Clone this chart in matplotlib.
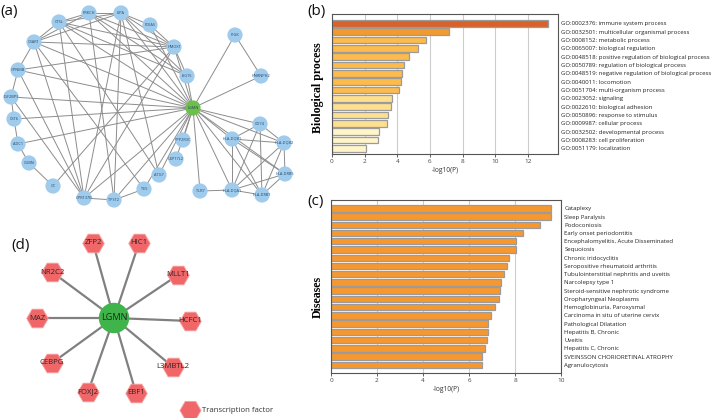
import numpy as np
import matplotlib
matplotlib.use("Agg")
import matplotlib.pyplot as plt

plt.rcParams['font.family'] = ['Open Sans', 'DejaVu Sans']

W, H = 713, 418

# ----------------------------
# Data
# ----------------------------

# (b) GO biological process enrichment
bp_terms = [
    'GO:0002376: immune system process',
    'GO:0032501: multicellular organismal process',
    'GO:0008152: metabolic process',
    'GO:0065007: biological regulation',
    'GO:0048518: positive regulation of biological process',
    'GO:0050789: regulation of biological process',
    'GO:0048519: negative regulation of biological process',
    'GO:0040011: locomotion',
    'GO:0051704: multi-organism process',
    'GO:0023052: signaling',
    'GO:0022610: biological adhesion',
    'GO:0050896: response to stimulus',
    'GO:0009987: cellular process',
    'GO:0032502: developmental process',
    'GO:0008283: cell proliferation',
    'GO:0051179: localization',
]
bp_values = [13.2, 7.17, 5.76, 5.27, 4.69, 4.39, 4.31, 4.23, 4.10,
             3.69, 3.59, 3.45, 3.39, 2.90, 2.84, 2.08]
bp_colors = ['#d9622b', '#f39a2f'] + ['#fdbb4b'] * 7 + ['#fedf90'] * 4 + ['#fff5c9'] * 3

# (c) disease enrichment
dis_terms = [
    'Cataplexy', 'Sleep Paralysis', 'Podoconiosis', 'Early onset periodontitis',
    'Encephalomyelitis, Acute Disseminated', 'Sequoiosis', 'Chronic iridocyclitis',
    'Seropositive rheumatoid arthritis', 'Tubulointerstitial nephritis and uveitis',
    'Narcolepsy type 1', 'Steroid-sensitive nephrotic syndrome', 'Oropharyngeal Neoplasms',
    'Hemoglobinuria, Paroxysmal', 'Carcinoma in situ of uterine cervix',
    'Pathological Dilatation', 'Hepatitis B, Chronic', 'Uveitis', 'Hepatitis C, Chronic',
    'SVEINSSON CHORIORETINAL ATROPHY', 'Agranulocytosis',
]
dis_values = [9.58, 9.58, 9.07, 8.33, 8.06, 8.06, 7.75, 7.65, 7.52, 7.38,
              7.33, 7.30, 7.11, 6.94, 6.82, 6.81, 6.80, 6.69, 6.58, 6.58]

# (a) PPI network layout (pixel positions)
ppi_nodes = {
    'PRKCH': (89, 13), 'LIPA': (121, 13), 'CTSL': (59, 22), 'PDIA5': (150, 25),
    'C3AR1': (34, 42), 'HMOX1': (174, 47), 'PIGK': (235, 35), 'GPNMB': (18, 70),
    'ISG15': (187, 76), 'HNRNPH2': (261, 76), 'IGF2BP3': (11, 97), 'LGMN': (193, 108),
    'CST6': (14, 119), 'CD74': (260, 124), 'ADC1': (18, 144), 'PPP2R3C': (183, 140),
    'HLA-DQB1': (232, 139), 'HLA-DQB2': (284, 143), 'USP17L2': (176, 159),
    'CUBN': (29, 163), 'HLA-DRB5': (285, 174), 'ATG7': (159, 175), 'GC': (53, 186),
    'TES': (144, 189), 'TLR7': (200, 191), 'HLA-DQA1': (232, 190),
    'HLA-DRB1': (262, 195), 'GPR137B': (84, 198), 'TPST2': (114, 200),
}
lgmn_partners = ['PIGK', 'HNRNPH2', 'ISG15', 'HMOX1', 'PDIA5', 'LIPA', 'PRKCH', 'CTSL',
                 'C3AR1', 'GPNMB', 'IGF2BP3', 'CST6', 'ADC1', 'GPR137B', 'TPST2', 'TES',
                 'ATG7', 'USP17L2', 'PPP2R3C', 'TLR7', 'HLA-DQA1', 'HLA-DRB1',
                 'HLA-DQB1', 'CD74', 'HLA-DQB2', 'HLA-DRB5']
ppi_edges = [
    ('PRKCH', 'LIPA'), ('CTSL', 'PRKCH'), ('CTSL', 'LIPA'), ('C3AR1', 'CTSL'),
    ('C3AR1', 'PRKCH'), ('C3AR1', 'LIPA'), ('GPNMB', 'C3AR1'), ('IGF2BP3', 'GPNMB'),
    ('CST6', 'IGF2BP3'), ('ADC1', 'CST6'), ('CUBN', 'ADC1'), ('GC', 'CUBN'),
    ('GPR137B', 'TPST2'), ('TPST2', 'TES'), ('LIPA', 'PDIA5'), ('LIPA', 'HMOX1'),
    ('LIPA', 'ISG15'), ('PRKCH', 'HMOX1'), ('PRKCH', 'ISG15'), ('CTSL', 'HMOX1'),
    ('CTSL', 'ISG15'), ('C3AR1', 'HMOX1'), ('GPNMB', 'HMOX1'), ('GC', 'HMOX1'),
    ('PDIA5', 'HMOX1'), ('HMOX1', 'ISG15'), ('GPR137B', 'C3AR1'), ('GPR137B', 'GPNMB'),
    ('GPR137B', 'CTSL'), ('GPR137B', 'LIPA'), ('GPR137B', 'HMOX1'), ('TPST2', 'PRKCH'),
    ('TPST2', 'LIPA'), ('TES', 'C3AR1'), ('ATG7', 'CTSL'), ('ATG7', 'LIPA'),
    ('GPR137B', 'IGF2BP3'), ('PIGK', 'HNRNPH2'),
    ('TLR7', 'HLA-DQA1'), ('HLA-DQB1', 'HLA-DQB2'), ('HLA-DQB1', 'HLA-DQA1'),
    ('HLA-DQB1', 'HLA-DRB1'), ('HLA-DQB1', 'HLA-DRB5'), ('CD74', 'HLA-DQB1'),
    ('CD74', 'HLA-DQB2'), ('CD74', 'HLA-DQA1'), ('CD74', 'HLA-DRB1'),
    ('HLA-DQB2', 'HLA-DRB5'), ('HLA-DQB2', 'HLA-DQA1'), ('HLA-DQB2', 'HLA-DRB1'),
    ('HLA-DRB5', 'HLA-DRB1'), ('HLA-DRB5', 'HLA-DQA1'), ('HLA-DQA1', 'HLA-DRB1'),
] + [('LGMN', p) for p in lgmn_partners]

# (d) transcription factor network
tf_nodes = {
    'ZFP2': (93, 243), 'HIC1': (139, 243), 'NR2C2': (52, 272), 'MLLT1': (178, 275),
    'MAZ': (37, 318), 'HCFC1': (190, 321), 'CEBPG': (52, 363), 'L3MBTL2': (173, 367),
    'FOXJ2': (88, 392), 'EBF1': (136, 393),
}
tf_center = ('LGMN', (114, 318))


def px_rect(l, t, r, b):
    return [l / W, 1 - b / H, (r - l) / W, (b - t) / H]


fig = plt.figure(figsize=(W / 100, H / 100), dpi=100)

# ----------------------------
# (a) network
# ----------------------------
axa = fig.add_axes(px_rect(0, 0, 305, 212))
axa.set_xlim(0, 305)
axa.set_ylim(212, 0)
axa.axis('off')
for u, v in ppi_edges:
    (x1, y1), (x2, y2) = ppi_nodes[u], ppi_nodes[v]
    axa.plot([x1, x2], [y1, y2], color='#8c8c8c', lw=0.7, zorder=1)
names = list(ppi_nodes)
xs = [ppi_nodes[n][0] for n in names]
ys = [ppi_nodes[n][1] for n in names]
cols = ['#6cc04a' if n == 'LGMN' else '#9fcbec' for n in names]
axa.scatter(xs, ys, s=120, c=cols, edgecolors='none', zorder=2)
for n, x, y in zip(names, xs, ys):
    axa.text(x, y, n, fontsize=2.8, color='#2b4766', ha='center', va='center', zorder=3)

# ----------------------------
# (d) TF network
# ----------------------------
axd = fig.add_axes(px_rect(0, 225, 305, 418))
axd.set_xlim(0, 305)
axd.set_ylim(418, 225)
axd.axis('off')
cx, cy = tf_center[1]
for n, (x, y) in tf_nodes.items():
    axd.plot([cx, x], [cy, y], color='#808080', lw=1.6, zorder=1)
axd.scatter([p[0] for p in tf_nodes.values()], [p[1] for p in tf_nodes.values()],
            marker='H', s=240, c='#f0676a', edgecolors='#f7a0a0', linewidths=0.6, zorder=2)
for n, (x, y) in tf_nodes.items():
    axd.text(x, y, n, fontsize=5.6, color='#3a2020', ha='center', va='center', zorder=3)
axd.scatter([cx], [cy], s=480, c='#3fb44a', edgecolors='none', zorder=2)
axd.text(cx, cy, tf_center[0], fontsize=6.6, color='#1c2a1c', ha='center', va='center', zorder=3)
axd.scatter([190], [410], marker='H', s=230, c='#f0676a', edgecolors='#f7a0a0', linewidths=0.6)
axd.text(202, 410, 'Transcription factor', fontsize=5.6, color='#333333', va='center')

# ----------------------------
# (b) and (c) bar charts
# ----------------------------
def bar_panel(rect, terms, values, colors, xmax, ticks, ylim):
    ax = fig.add_axes(rect)
    y = np.arange(len(terms))
    ax.barh(y, values, height=0.78, color=colors, edgecolor='#9b9b9b', linewidth=0.9, zorder=2)
    ax.set_xlim(0, xmax)
    ax.set_ylim(*ylim)
    ax.set_xticks(ticks)
    ax.tick_params(axis='x', labelsize=4.6, length=2, width=0.6, pad=1.5, colors='#444444')
    ax.set_xlabel('-log10(P)', fontsize=4.8, labelpad=2, color='#333333')
    ax.yaxis.tick_right()
    ax.set_yticks(y)
    ax.set_yticklabels(terms, fontsize=4.35, color='#222222')
    ax.tick_params(axis='y', length=0, pad=2.5)
    ax.grid(axis='x', color='#cccccc', lw=0.8, zorder=0)
    for s in ax.spines.values():
        s.set_color('#555555')
        s.set_linewidth(0.8)
    return ax

axb = bar_panel(px_rect(332, 14, 558, 154), bp_terms, bp_values, bp_colors,
                13.84, range(0, 13, 2), (15.69, -1.12))
axc = bar_panel(px_rect(331, 200, 561, 373), dis_terms, dis_values, '#f7982f',
                10, range(0, 11, 2), (20.0, -1.01))

fig.text(318 / W, 1 - 88 / H, 'Biological process', rotation=90, fontsize=8.6,
         fontweight='bold', family='Liberation Serif', ha='center', va='center')
fig.text(318 / W, 1 - 297 / H, 'Diseases', rotation=90, fontsize=8.6,
         fontweight='bold', family='Liberation Serif', ha='center', va='center')

# panel letters
for lbl, x, y in [('(a)', 0, 11), ('(b)', 307, 11), ('(c)', 307, 201), ('(d)', 11, 245)]:
    fig.text(x / W, 1 - y / H, lbl, fontsize=11, ha='left', va='center', color='#111111')

fig.savefig('out.png', dpi=100)
